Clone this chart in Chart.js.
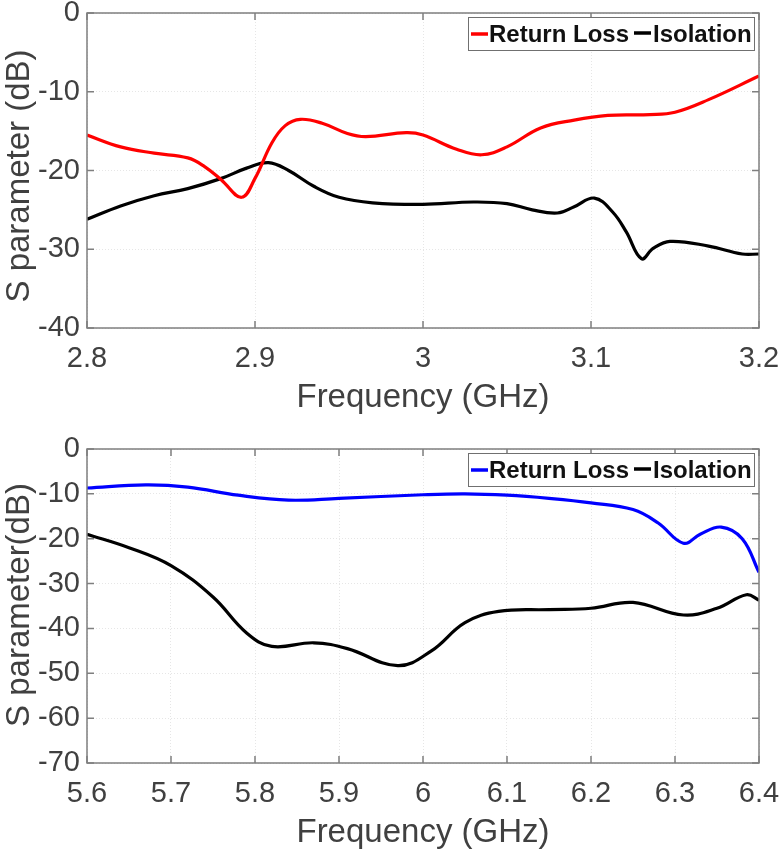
<!DOCTYPE html>
<html>
<head>
<meta charset="utf-8">
<style>
  html, body { margin: 0; padding: 0; background: #fff; }
  #top, #bottom { position: absolute; left: 0; }
  #top { top: 0; }
  #bottom { top: 426px; }
</style>
<script src="https://cdn.jsdelivr.net/npm/chart.js@4"></script>
</head>
<body>
<canvas id="top" width="781" height="426"></canvas>
<canvas id="bottom" width="781" height="427"></canvas>
<script>
// upper panel, 2.8 - 3.2 GHz
const redFreq = [2.8, 2.82, 2.84, 2.86, 2.87, 2.88, 2.892, 2.9, 2.91, 2.918, 2.927, 2.94, 2.955, 2.966, 2.99, 3.0, 3.02, 3.035, 3.05, 3.07, 3.09, 3.11, 3.135, 3.15, 3.17, 3.2];
const redLoss = [-15.5, -17, -17.8, -18.4, -19.5, -21.2, -23.4, -21, -16.5, -14.3, -13.5, -14, -15.3, -15.7, -15.2, -15.5, -17.3, -18, -17, -14.6, -13.6, -13, -12.9, -12.6, -11, -8];
const topIsoFreq = [2.8, 2.82, 2.84, 2.86, 2.88, 2.895, 2.908, 2.92, 2.935, 2.95, 2.97, 3.0, 3.03, 3.05, 3.065, 3.08, 3.09, 3.102, 3.113, 3.121, 3.13, 3.137, 3.147, 3.17, 3.19, 3.2];
const topIso = [-26.2, -24.5, -23.2, -22.3, -21, -19.7, -19, -20, -22, -23.4, -24.1, -24.3, -24, -24.2, -25, -25.4, -24.6, -23.5, -25.3, -27.8, -31.2, -29.9, -29, -29.6, -30.6, -30.6];

// lower panel, 5.6 - 6.4 GHz
const blueFreq = [5.6, 5.67, 5.72, 5.78, 5.84, 5.9, 6.0, 6.05, 6.1, 6.15, 6.2, 6.25, 6.28, 6.31, 6.33, 6.355, 6.38, 6.4];
const blueLoss = [-8.7, -8, -8.5, -10.3, -11.4, -11, -10.2, -10, -10.3, -11, -12, -13.5, -16.5, -21, -19, -17.4, -20, -27.5];
const lowIsoFreq = [5.6, 5.65, 5.7, 5.75, 5.79, 5.82, 5.87, 5.91, 5.97, 6.01, 6.05, 6.09, 6.15, 6.2, 6.25, 6.31, 6.35, 6.385, 6.4];
const lowIso = [-19, -22, -26, -33, -41, -44, -43.2, -44.5, -48.3, -45, -38.7, -36.2, -35.8, -35.5, -34.2, -37, -35.5, -32.5, -33.7];

const textColor = "#404040";
const axisColor = "#7f7f7f";
const fontName = "'Liberation Sans', Arial, sans-serif";

function toPoints(xs, ys) {
  return xs.map((x, i) => ({ x: x, y: ys[i] }));
}

// MATLAB style box with inward ticks, the y title and the legend in the corner
const boxPlugin = {
  id: "box",
  afterDraw(chart, args, opts) {
    const c = chart.ctx;
    const a = chart.chartArea;
    c.save();
    c.strokeStyle = axisColor;
    c.lineWidth = 1.5;
    c.strokeRect(a.left, a.top, a.width, a.height);
    c.beginPath();
    chart.scales.x.ticks.forEach((t) => {
      const px = chart.scales.x.getPixelForValue(t.value);
      c.moveTo(px, a.bottom); c.lineTo(px, a.bottom - 7);
      c.moveTo(px, a.top); c.lineTo(px, a.top + 7);
    });
    chart.scales.y.ticks.forEach((t) => {
      const py = chart.scales.y.getPixelForValue(t.value);
      c.moveTo(a.left, py); c.lineTo(a.left + 7, py);
      c.moveTo(a.right, py); c.lineTo(a.right - 7, py);
    });
    c.stroke();

    // y title
    c.save();
    c.translate(20, opts.titleY);
    c.rotate(-Math.PI / 2);
    c.fillStyle = textColor;
    c.font = "33px " + fontName;
    c.textAlign = "center";
    c.textBaseline = "middle";
    c.fillText(opts.yTitle, 0, 0);
    c.restore();

    // legend
    const y0 = a.top + 4;
    c.fillStyle = "#fff";
    c.fillRect(468, y0, 286, 33);
    c.strokeStyle = "#707070";
    c.lineWidth = 1;
    c.strokeRect(468.5, y0 + 0.5, 286, 33);
    c.lineWidth = 3.5;
    c.strokeStyle = opts.lossColor;
    c.beginPath(); c.moveTo(471, y0 + 17); c.lineTo(488, y0 + 17); c.stroke();
    c.strokeStyle = "#000";
    c.beginPath(); c.moveTo(634, y0 + 16); c.lineTo(651, y0 + 16); c.stroke();
    c.fillStyle = "#111";
    c.font = "bold 24px " + fontName;
    c.textBaseline = "middle";
    c.fillText("Return Loss", 489, y0 + 18);
    c.fillText("Isolation", 653, y0 + 18);
    c.restore();
  },
};

function makeChart(id, lossPts, isoPts, lossColor, xMin, xMax, xStep, yMin, yTitle, titleY, pad) {
  return new Chart(document.getElementById(id), {
    type: "line",
    plugins: [boxPlugin],
    data: {
      datasets: [
        { label: "Return Loss", data: lossPts, borderColor: lossColor },
        { label: "Isolation", data: isoPts, borderColor: "#000" },
      ],
    },
    options: {
      responsive: false,
      animation: false,
      layout: { padding: pad },
      elements: {
        point: { radius: 0 },
        line: { borderWidth: 3.2, tension: 0.4 },
      },
      plugins: {
        legend: { display: false },
        tooltip: { enabled: false },
        box: { lossColor: lossColor, yTitle: yTitle, titleY: titleY },
      },
      scales: {
        x: {
          type: "linear",
          min: xMin,
          max: xMax,
          afterFit(scale) {
            scale.height = 90;
            scale.paddingLeft = 0;
            scale.paddingRight = 0;
          },
          ticks: {
            stepSize: xStep,
            color: textColor,
            maxRotation: 0,
            padding: 14,
            font: { family: fontName, size: 29 },
            callback: (v) => String(+v.toFixed(1)),
          },
          grid: { color: "#e6e6e6", drawTicks: false },
          border: { display: false, dash: [1, 2] },
          title: {
            display: true,
            text: "Frequency (GHz)",
            color: textColor,
            font: { family: fontName, size: 33 },
            padding: { top: 0, bottom: 0 },
          },
        },
        y: {
          min: yMin,
          max: 0,
          afterFit(scale) {
            scale.width = 87;
            scale.paddingTop = 0;
            scale.paddingBottom = 0;
          },
          ticks: {
            stepSize: 10,
            color: textColor,
            padding: 7,
            font: { family: fontName, size: 29 },
          },
          grid: { color: "#e6e6e6", drawTicks: false },
          border: { display: false, dash: [1, 2] },
        },
      },
    },
  });
}

makeChart("top", toPoints(redFreq, redLoss), toPoints(topIsoFreq, topIso), "#ff0000",
  2.8, 3.2, 0.1, -40, "S parameter (dB)", 176, { left: 0, right: 22, top: 13, bottom: 8 });
makeChart("bottom", toPoints(blueFreq, blueLoss), toPoints(lowIsoFreq, lowIso), "#0000ff",
  5.6, 6.4, 0.1, -70, "S parameter(dB)", 179, { left: 0, right: 22, top: 23, bottom: 0 });
</script>
</body>
</html>
